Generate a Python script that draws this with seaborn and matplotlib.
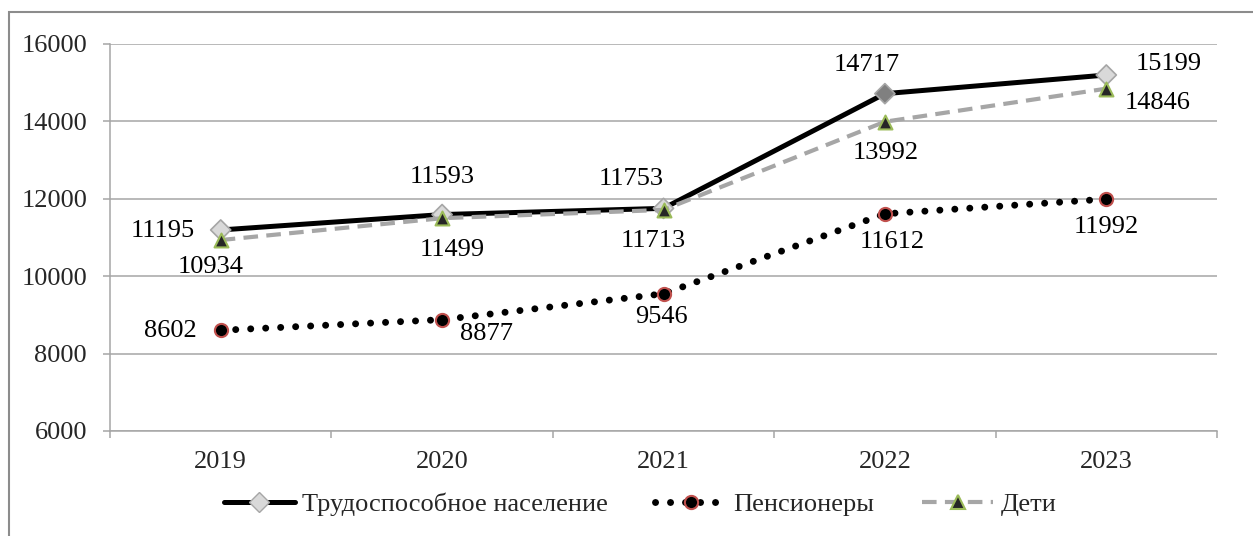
import matplotlib
matplotlib.use("Agg")
import matplotlib.pyplot as plt
import seaborn as sns
from matplotlib.patches import Rectangle
from matplotlib.lines import Line2D
from matplotlib.ticker import FixedLocator, FixedFormatter, NullFormatter

# ---- data -------------------------------------------------------------
years = ["2019", "2020", "2021", "2022", "2023"]
working_age = [11195, 11593, 11753, 14717, 15199]
pensioners = [8602, 8877, 9546, 11612, 11992]
children = [10934, 11499, 11713, 13992, 14846]
y_ticks = [6000, 8000, 10000, 12000, 14000, 16000]
series_names = ["Трудоспособное население", "Пенсионеры", "Дети"]

# ---- style ------------------------------------------------------------
sns.set_theme(style="white")
plt.rcParams["font.family"] = ["Liberation Serif", "DejaVu Serif"]
FS = 19
GRID = "#a6a6a6"
DOTS = (0, (0.01, 2.15))
DASH = (0, (3.5, 2.0))

W, H = 1253, 536
fig = plt.figure(figsize=(W / 100, H / 100), dpi=100)
ax = fig.add_axes([110 / W, (H - 431) / H, (1217 - 110) / W, (431 - 44) / H])

x = list(range(len(years)))

# working-age population: thick black line, grey diamonds
sns.lineplot(x=x, y=working_age, ax=ax, color="black", linewidth=3.6,
             zorder=3, legend=False)
d = sns.scatterplot(x=x, y=working_age, ax=ax, marker="D", s=105,
                    color="#d9d9d9", edgecolor="#a6a6a6", linewidth=1.2,
                    zorder=4, legend=False)
diam = d.collections[-1]
diam.set_facecolors(["#d9d9d9", "#d9d9d9", "#d9d9d9", "#808080", "#d9d9d9"])

# pensioners: round dotted black line, black circles with red rim
sns.lineplot(x=x, y=pensioners, ax=ax, color="black", linewidth=5.0,
             linestyle=DOTS, dash_capstyle="round",
             zorder=5, legend=False)
sns.scatterplot(x=x, y=pensioners, ax=ax, marker="o", s=90,
                color="black", edgecolor="#c0504d", linewidth=1.5,
                zorder=6, legend=False)

# children: grey dashed line, dark triangles with green rim
sns.lineplot(x=x, y=children, ax=ax, color="#a6a6a6", linewidth=3.0,
             linestyle=DASH, zorder=7, legend=False)
sns.scatterplot(x=x, y=children, ax=ax, marker="^", s=100,
                color="#262626", edgecolor="#9bbb59", linewidth=1.5,
                zorder=8, legend=False)

# ---- value labels -----------------------------------------------------
# (dx, dy) in pixels, dy positive = downwards
work_off = [(-26, 1, "right"), (0, -38, "center"), (-32, -29, "center"),
            (-18, -29, "center"), (62, -11, "center")]
pens_off = [(-24, 1, "right"), (44, 14, "center"), (-2, 23, "center"),
            (7, 28, "center"), (0, 28, "center")]
child_off = [(-10, 27, "center"), (10, 32, "center"), (-10, 31, "center"),
             (1, 31, "center"), (51, 14, "center")]

for vals, offs in ((working_age, work_off), (pensioners, pens_off),
                   (children, child_off)):
    for xi, v, (dx, dy, ha) in zip(x, vals, offs):
        ax.annotate(f"{v}", (xi, v), xytext=(dx, -dy),
                    textcoords="offset pixels", ha=ha, va="center",
                    fontsize=FS, color="black", zorder=10)

# ---- axes -------------------------------------------------------------
ax.set_xlim(-0.5, len(years) - 0.5)
ax.set_ylim(y_ticks[0], y_ticks[-1])
ax.set_yticks(y_ticks)
ax.set_yticklabels([str(t) for t in y_ticks], fontsize=FS)

ax.xaxis.set_major_locator(FixedLocator([i - 0.5 for i in range(len(years) + 1)]))
ax.xaxis.set_major_formatter(NullFormatter())
ax.xaxis.set_minor_locator(FixedLocator(x))
ax.xaxis.set_minor_formatter(FixedFormatter(years))
ax.tick_params(axis="x", which="major", direction="out", length=5,
               width=1.1, color=GRID, bottom=True)
ax.tick_params(axis="x", which="minor", length=0, pad=14.5, labelsize=FS,
               bottom=True)
ax.tick_params(axis="y", direction="out", length=5, width=1.1, color=GRID,
               pad=11.5, left=True)

ax.grid(axis="y", color=GRID, linewidth=1.1)
ax.grid(axis="x", visible=False)
for side in ("top", "right"):
    ax.spines[side].set_visible(False)
for side in ("left", "bottom"):
    ax.spines[side].set_color(GRID)
    ax.spines[side].set_linewidth(1.1)

# ---- legend -----------------------------------------------------------
handles = [
    Line2D([], [], color="black", linewidth=3.6, marker="D", markersize=10,
           markerfacecolor="#d9d9d9", markeredgecolor="#a6a6a6"),
    Line2D([], [], color="black", linewidth=5.0, linestyle=DOTS,
           dash_capstyle="round", marker="o", markersize=9.5,
           markerfacecolor="black", markeredgecolor="#c0504d",
           markeredgewidth=1.5),
    Line2D([], [], color="#a6a6a6", linewidth=3.0, linestyle=DASH,
           marker="^", markersize=10, markerfacecolor="#262626",
           markeredgecolor="#9bbb59", markeredgewidth=1.5),
]
fig.legend(handles, series_names, loc="center", ncol=3, frameon=False,
           fontsize=FS, handlelength=2.7, handletextpad=0.27,
           columnspacing=1.8, bbox_to_anchor=(640 / W, 1 - 504 / H))

# ---- outer chart frame (top and left edges visible) -------------------
fig.add_artist(Rectangle((9 / W, -0.2), 1.2, 1.2 - 12 / H,
                         transform=fig.transFigure, fill=False,
                         edgecolor="#8c8c8c", linewidth=1.5, clip_on=False))

fig.savefig("out.png", dpi=100)
